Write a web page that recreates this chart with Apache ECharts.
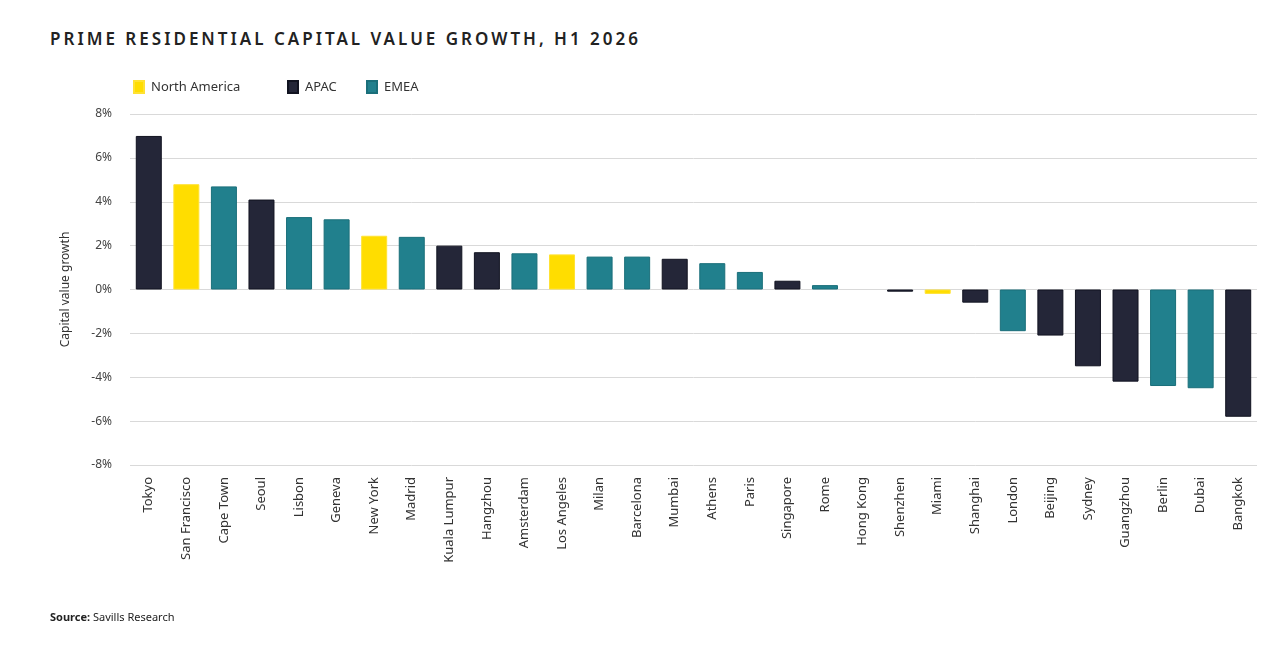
<!DOCTYPE html>
<html>
<head>
<meta charset="utf-8">
<script src="https://cdn.jsdelivr.net/npm/echarts@6/dist/echarts.min.js"></script>
<style>
    html, body { margin: 0; padding: 0; background: #fff; }
    #title {
        position: absolute; left: 50px; top: 27px;
        font-family: "Noto Sans", sans-serif; font-weight: 600;
        font-size: 17px; letter-spacing: 3px; color: #222;
    }
    #chart { width: 1280px; height: 650px; }
    #source {
        position: absolute; left: 50px; top: 609px;
        font-family: "Noto Sans", sans-serif; font-size: 11px; color: #222;
    }
</style>
</head>
<body>
<div id="title">PRIME RESIDENTIAL CAPITAL VALUE GROWTH, H1 2026</div>
<div id="chart"></div>
<div id="source"><b>Source:</b> Savills Research</div>
<script>
// 城市
var cities = ["Tokyo", "San Francisco", "Cape Town", "Seoul", "Lisbon", "Geneva", "New York", "Madrid",
    "Kuala Lumpur", "Hangzhou", "Amsterdam", "Los Angeles", "Milan", "Barcelona", "Mumbai", "Athens",
    "Paris", "Singapore", "Rome", "Hong Kong", "Shenzhen", "Miami", "Shanghai", "London", "Beijing",
    "Sydney", "Guangzhou", "Berlin", "Dubai", "Bangkok"];
// 增长率 (%)
var growth = [7.0, 4.8, 4.7, 4.1, 3.3, 3.2, 2.45, 2.4, 2.0, 1.7, 1.65, 1.6, 1.5, 1.5, 1.4, 1.2,
    0.8, 0.4, 0.2, 0, -0.1, -0.2, -0.6, -1.9, -2.1, -3.5, -4.2, -4.4, -4.5, -5.8];
// 区域
var region = ["APAC", "North America", "EMEA", "APAC", "EMEA", "EMEA", "North America", "EMEA",
    "APAC", "APAC", "EMEA", "North America", "EMEA", "EMEA", "APAC", "EMEA",
    "EMEA", "APAC", "EMEA", "APAC", "APAC", "North America", "APAC", "EMEA", "APAC",
    "APAC", "APAC", "EMEA", "EMEA", "APAC"];
var regions = ["North America", "APAC", "EMEA"];
var yTicks = [-8, 8, 2];

var fills = { "North America": "#ffdd00", "APAC": "#242638", "EMEA": "#21808d" };
var borders = { "North America": "#ffe233", "APAC": "#111320", "EMEA": "#1a6f7a" };
var legendLeft = [128, 282, 361];

var chart = echarts.init(document.getElementById('chart'));

var series = regions.map(function (r) {
    return {
        name: r,
        type: 'bar',
        stack: 'all',
        barWidth: 26,
        itemStyle: { color: fills[r], borderColor: borders[r], borderWidth: 1 },
        data: growth.map(function (v, i) {
            if (region[i] !== r) return null;
            // 0 值不画边框
            return v === 0 ? { value: v, itemStyle: { borderWidth: 0 } } : v;
        })
    };
});

// 图例分开放，间距跟原图一致
var legends = regions.map(function (r, i) {
    return {
        left: legendLeft[i], top: 75,
        itemWidth: 10, itemHeight: 12,
        icon: 'rect',
        textStyle: { fontSize: 13, color: '#333', padding: [0, 0, 0, 2] },
        data: [r]
    };
});

chart.setOption({
    textStyle: { fontFamily: '"Noto Sans", sans-serif' },
    legend: legends,
    grid: { left: 130, right: 23, top: 114, bottom: 185 },
    xAxis: {
        type: 'category',
        data: cities,
        axisLine: { show: false },
        axisTick: { show: false },
        axisLabel: { interval: 0, rotate: 90, margin: 12, fontSize: 13, color: '#333' }
    },
    yAxis: {
        type: 'value',
        min: yTicks[0], max: yTicks[1], interval: yTicks[2],
        name: 'Capital value growth',
        nameLocation: 'middle',
        nameGap: 58,
        nameTextStyle: { fontSize: 12, color: '#333' },
        axisLine: { show: false },
        axisTick: { show: false },
        axisLabel: { formatter: '{value}%', fontSize: 12, color: '#444', margin: 18 },
        splitLine: { lineStyle: { color: '#d9d9d9', width: 1 } }
    },
    series: series
});
</script>
</body>
</html>
